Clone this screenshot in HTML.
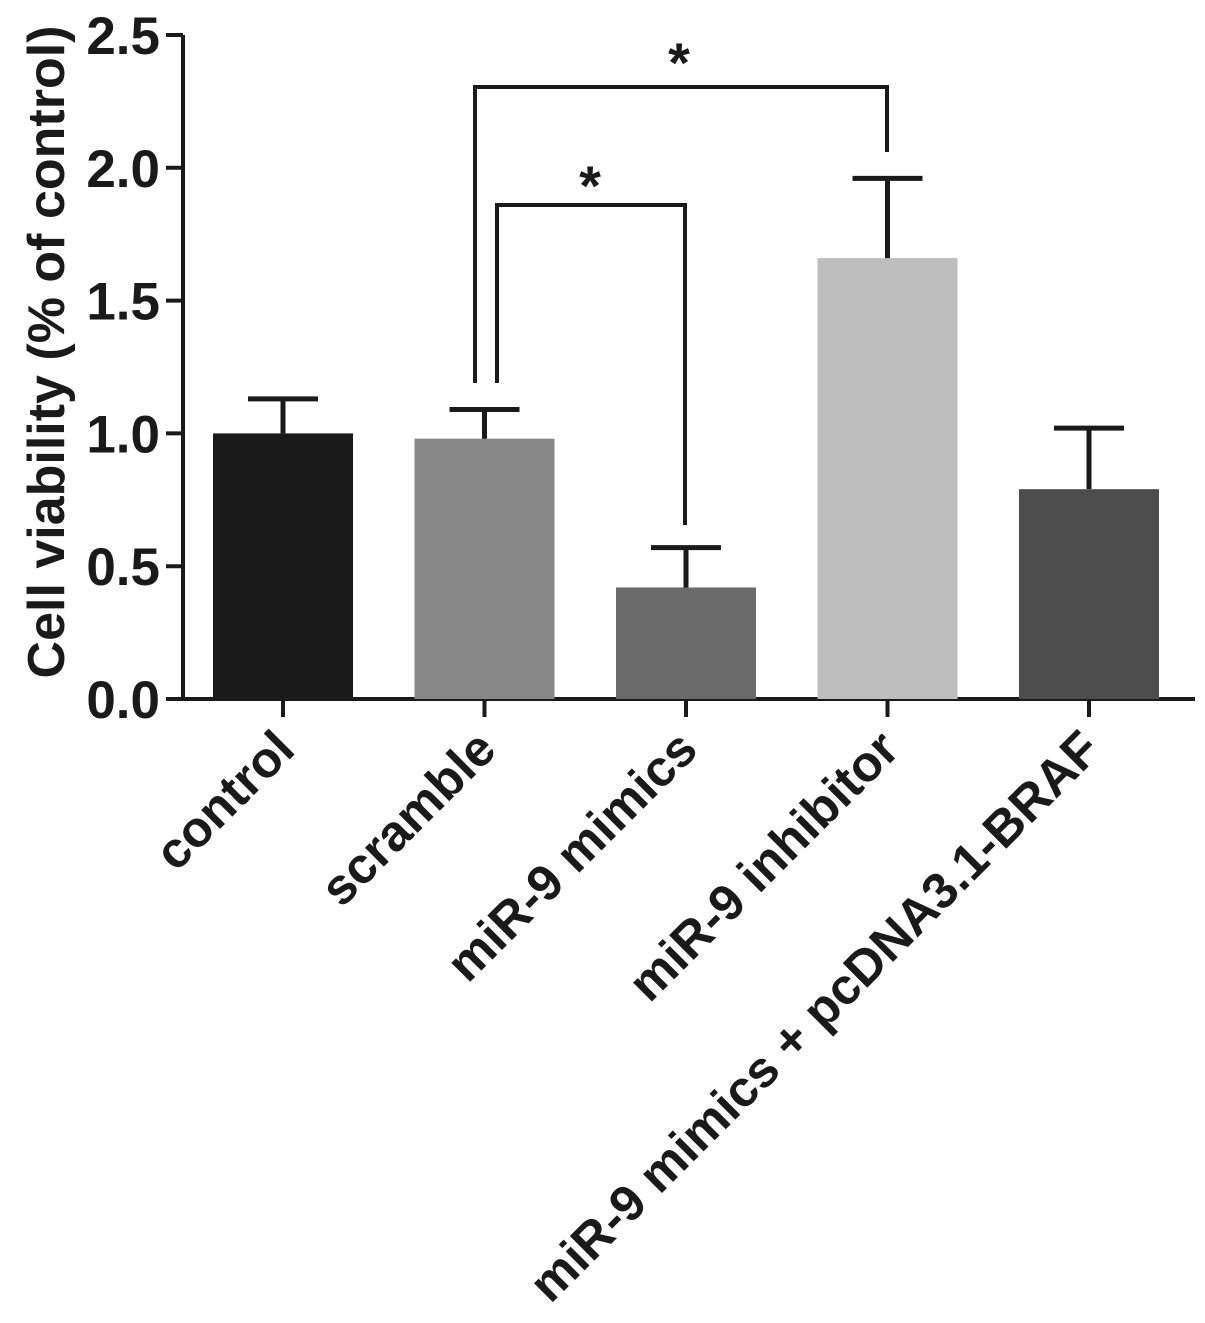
<!DOCTYPE html>
<html><head><meta charset="utf-8"><style>
body{margin:0;background:#fff;}
svg text{font-family:"Liberation Sans",Arial,sans-serif;font-weight:bold;fill:#1a1a1a;}
</style></head><body>
<svg id="chart" width="1205" height="1318"></svg>
<script>
const categories=["control","scramble","miR-9 mimics","miR-9 inhibitor","miR-9 mimics + pcDNA3.1-BRAF"];
const values=[1.0,0.98,0.42,1.66,0.79];
const errors=[0.13,0.11,0.15,0.30,0.23];
const colors=["#1a1a1a","#888888","#6b6b6b","#bdbdbd","#4d4d4d"];
const ticks=[0,0.5,1.0,1.5,2.0,2.5];
const tickLabels=["0.0","0.5","1.0","1.5","2.0","2.5"];
const NS="http://www.w3.org/2000/svg";
const svg=document.getElementById('chart');
const y0=699,ppu=265.6;
function yS(v){return y0-v*ppu;}
function xS(i){return 283+i*201.5;}
function mk(t,a,p){const e=document.createElementNS(NS,t);for(const k in a)e.setAttribute(k,a[k]);(p||svg).appendChild(e);return e;}
const ya=mk('line',{x1:183,y1:yS(2.5),x2:183,y2:y0+2,stroke:'#1a1a1a','stroke-width':4});


const xa=mk('line',{x1:166,y1:y0,x2:1195,y2:y0,stroke:'#1a1a1a','stroke-width':4});


ticks.forEach((t,i)=>{
  const l=mk('line',{x1:166,y1:yS(t),x2:183,y2:yS(t),stroke:'#1a1a1a','stroke-width':4});
  
  
  const tx=mk('text',{x:160,y:yS(t)+19,'text-anchor':'end','font-size':53});
  tx.textContent=tickLabels[i];
  
  
});
const yt=mk('text',{x:0,y:0,'text-anchor':'middle','font-size':52,transform:'translate(64,352) rotate(-90)'});
yt.textContent='Cell viability (% of control)';


categories.forEach((c,i)=>{
  const cx=xS(i);
  const b=mk('rect',{x:cx-70,y:yS(values[i]),width:140,height:y0-yS(values[i]),fill:colors[i]});
  
  
  const ytop=yS(values[i]+errors[i]);
  const e=mk('path',{d:`M${cx},${yS(values[i])}V${ytop}M${cx-35},${ytop}H${cx+35}`,stroke:'#1a1a1a','stroke-width':5,fill:'none'});
  
  
  const tk=mk('line',{x1:cx,y1:y0,x2:cx,y2:717,stroke:'#1a1a1a','stroke-width':4});
  
  
  const tx=mk('text',{x:0,y:0,'text-anchor':'end','font-size':50.5,transform:`translate(${cx+14},752) rotate(-45)`});
  tx.textContent=c;
  
  
});
const br1=mk('path',{d:`M497,383V205H685V525`,stroke:'#1a1a1a','stroke-width':4,fill:'none'});


const s1=mk('text',{x:590,y:205,'text-anchor':'middle','font-size':56});s1.textContent='*';


const br2=mk('path',{d:`M475,383V87H887V152`,stroke:'#1a1a1a','stroke-width':4,fill:'none'});


const s2=mk('text',{x:679,y:82,'text-anchor':'middle','font-size':56});s2.textContent='*';


</script>
</body></html>
